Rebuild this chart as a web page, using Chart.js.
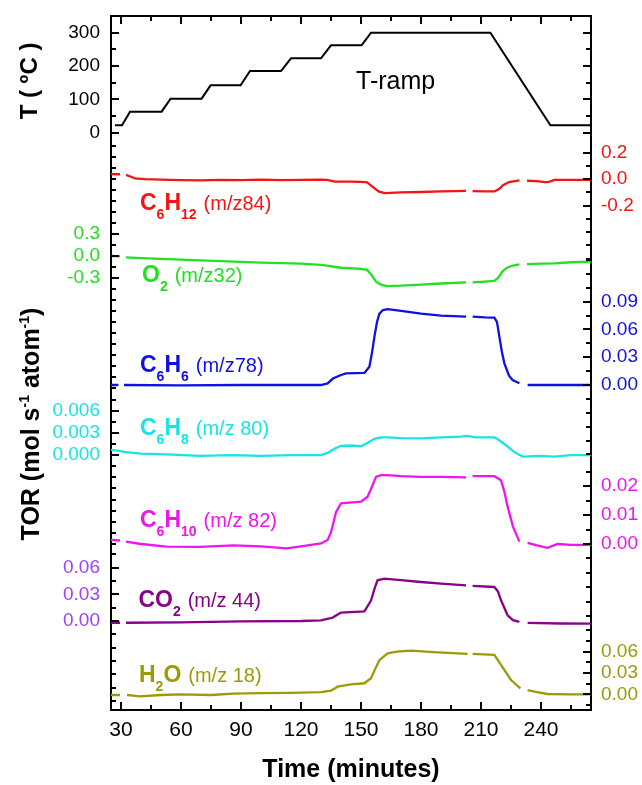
<!DOCTYPE html>
<html>
<head>
<meta charset="utf-8">
<script src="https://cdn.jsdelivr.net/npm/chart.js@4.4.0/dist/chart.umd.min.js"></script>
<style>
  html, body { margin: 0; padding: 0; background: #fff; }
</style>
</head>
<body>
<canvas id="chart" width="642" height="785"></canvas>
<script>
// Values (time in minutes)

// temperature ramp
const rampTime = [27, 30.5, 34.5, 50.3, 54.8, 70.3, 74.8, 89.8, 94.5, 110, 115, 130, 135, 150.3, 155, 214.7, 244.7, 265];
const rampTemp = [22, 22, 63, 63, 102, 102, 142, 142, 185, 185, 223, 223, 262, 262, 300, 300, 22, 22];

// C6H12 (m/z 84)
const c6h12Time = [25, 29.5, 31, 32.5, 35, 37, 42, 50, 60, 70, 80, 90, 100, 110, 120, 130, 133, 137, 145, 150, 153, 156, 159, 162, 170, 180, 190, 202.5, 204, 205.8, 212, 216.7, 219, 221, 224, 227, 229.2, 231, 233, 238, 242, 244, 246.7, 255, 265];
const c6h12Tor = [0.038, 0.037, null, 0.032, 0.018, 0.006, 0.0, -0.003, -0.008, -0.01, -0.006, -0.008, -0.004, -0.007, -0.005, -0.004, -0.006, -0.018, -0.019, -0.02, -0.025, -0.06, -0.095, -0.105, -0.1, -0.097, -0.092, -0.088, null, -0.09, -0.092, -0.093, -0.075, -0.045, -0.022, -0.015, -0.01, null, -0.012, -0.015, -0.022, -0.02, -0.006, -0.005, -0.005];

// O2 (m/z 32)
const o2Time = [25, 29.5, 31, 32.5, 40, 60, 80, 100, 120, 130, 133, 137, 140, 150, 153, 155, 157.5, 160, 163, 170, 180, 190, 202.5, 204, 205.8, 212, 216.7, 218.5, 220.8, 223, 226, 229.2, 231, 233, 240, 246.7, 255, 265];
const o2Tor = [0.0, -0.005, null, -0.02, -0.03, -0.05, -0.07, -0.09, -0.105, -0.12, -0.13, -0.15, -0.16, -0.175, -0.19, -0.25, -0.35, -0.39, -0.41, -0.405, -0.39, -0.375, -0.36, null, -0.36, -0.35, -0.34, -0.3, -0.21, -0.16, -0.13, -0.115, null, -0.11, -0.105, -0.1, -0.085, -0.077];

// C6H6 (m/z 78)
const c6h6Time = [25, 28.7, 30, 31.5, 60, 90, 120, 130, 133.3, 136, 140, 142.5, 151.7, 154.2, 155.5, 156.7, 158, 159.2, 161, 163.3, 170, 180, 190, 202.5, 204, 205.8, 212, 216.7, 218, 219.2, 220.5, 221.7, 224, 225.8, 229.2, 231, 233.3, 250, 265];
const c6h6Tor = [0.0, 0.0, null, 0.0, -0.0005, 0.0, 0.0, 0.0, 0.0018, 0.007, 0.0108, 0.0126, 0.013, 0.0198, 0.035, 0.052, 0.068, 0.077, 0.081, 0.082, 0.08, 0.077, 0.075, 0.0738, null, 0.0738, 0.073, 0.0727, 0.068, 0.052, 0.035, 0.0234, 0.01, 0.0054, 0.0018, null, 0.0, 0.0, 0.0];

// C6H8 (m/z 80)
const c6h8Time = [25, 28, 32.5, 40, 52.8, 69.5, 85, 100, 115, 130, 133.3, 137, 140, 145, 150, 153, 156.7, 160, 163.3, 170, 180, 190, 200, 203.3, 207, 216.7, 218, 221.7, 226.7, 230.8, 240, 246.7, 255, 265];
const c6h8Tor = [0.0007, 0.0006, 0.0004, 0.0002, 0.0001, -0.0001, 0.0, -0.0001, 0.0, 0.0, 0.0003, 0.0009, 0.00126, 0.0013, 0.0012, 0.0016, 0.0022, 0.0024, 0.0024, 0.0023, 0.00226, 0.0024, 0.0025, 0.0026, 0.0024, 0.0024, 0.0022, 0.0015, 0.0004, -0.0002, -0.0001, -0.0002, 0.0, 0.0];

// C6H10 (m/z 82)
const c6h10Time = [25, 29.5, 31, 32.5, 40, 52.8, 69.5, 86.2, 100, 112.8, 120, 130, 133.3, 135, 137.5, 140, 150, 153.3, 155, 157.5, 160, 163.3, 170, 180, 190, 202.5, 204, 205.8, 216.7, 220, 221.7, 223.3, 226, 229.2, 231, 233.3, 238, 243.3, 248.3, 255, 265];
const c6h10Tor = [0.0014, 0.0012, null, 0.0008, 0.0, -0.0009, -0.001, -0.0005, -0.0008, -0.0015, -0.0008, 0.0002, 0.0014, 0.004, 0.011, 0.014, 0.0146, 0.0163, 0.019, 0.0232, 0.0238, 0.0238, 0.0234, 0.0232, 0.0232, 0.023, null, 0.0234, 0.0234, 0.022, 0.018, 0.0129, 0.006, 0.0008, null, 0.0004, -0.0005, -0.0013, 0.0, -0.0003, -0.0003];

// CO2 (m/z 44)
const co2Time = [25, 29.5, 31, 32.5, 60, 90, 120, 130, 135.8, 140, 151.7, 155, 157, 158.3, 161.7, 170, 180, 190, 202.5, 204, 205.8, 216.7, 218.5, 220, 223.3, 226, 229.2, 231, 233.3, 250, 265];
const co2Tor = [-0.002, -0.002, null, -0.002, -0.0015, -0.0005, 0.0, 0.0008, 0.0038, 0.0094, 0.0109, 0.023, 0.038, 0.0457, 0.0476, 0.0458, 0.0438, 0.042, 0.0401, null, 0.0395, 0.0382, 0.033, 0.0233, 0.0064, 0.001, -0.001, null, -0.0022, -0.0028, -0.003];

// H2O (m/z 18)
const h2oTime = [25, 29.5, 31, 33, 36, 39.5, 50, 59.5, 75, 86.2, 100, 115, 130, 135, 138.3, 145, 151.7, 155, 157, 159.2, 163.3, 168, 175, 188.3, 196, 203.3, 204.5, 205.8, 216.7, 220, 225, 229.7, 231.5, 233.3, 238, 243.3, 255, 265];
const h2oTor = [-0.001, -0.001, null, -0.001, -0.002, -0.003, -0.001, 0.0, -0.001, 0.001, 0.0015, 0.002, 0.003, 0.005, 0.0107, 0.014, 0.0155, 0.0225, 0.035, 0.048, 0.0577, 0.06, 0.0613, 0.059, 0.058, 0.0567, null, 0.0567, 0.0553, 0.0412, 0.0201, 0.0084, null, 0.006, 0.003, 0.0004, 0.0, 0.0];

// labelled ticks
const timeTicks = [30, 60, 90, 120, 150, 180, 210, 240];
const tempTicks = [0, 100, 200, 300];
const c6h12Ticks = [-0.2, 0, 0.2];
const o2Ticks = [-0.3, 0, 0.3];
const c6h6Ticks = [0, 0.03, 0.06, 0.09];
const c6h8Ticks = [0, 0.003, 0.006];
const c6h10Ticks = [0, 0.01, 0.02];
const co2Ticks = [0, 0.03, 0.06];
const h2oTicks = [0, 0.03, 0.06];

const FONT = "'Liberation Sans', Arial, sans-serif";

function pts(times, values) {
    return times.map((t, i) => ({ x: t, y: values[i] }));
}

function stepTicks(min, max, step) {
    const out = [];
    for (let k = Math.ceil(min / step - 1e-9); k * step <= max + 1e-9; k++) {
        out.push(+(k * step).toFixed(6));
    }
    return out;
}

function hasTick(list, v) {
    return list.some(l => Math.abs(l - v) < 1e-9);
}

function noPad(s) {
    s.paddingTop = 0; s.paddingBottom = 0; s.paddingLeft = 0; s.paddingRight = 0;
}

// tick marks are drawn inward by the plugin below
const frameGrid = { drawOnChartArea: false, drawTicks: false };
const frameBorder = { display: true, color: '#000', width: 2 };

// one stacked y axis (one panel of the figure)
function panelAxis(side, order, height, min, max, step, labels, dec, color) {
    return {
        type: 'linear',
        position: side,
        stack: 'panels',
        stackWeight: height,
        weight: order,
        min: min,
        max: max,
        clip: false,
        grid: frameGrid,
        border: frameBorder,
        ticks: {
            autoSkip: false,
            padding: side === 'left' ? 11 : 10,
            color: color,
            font: { family: FONT, size: 19 },
            callback: v => hasTick(labels, v) ? Number(v).toFixed(dec) : ''
        },
        afterBuildTicks: s => { s.ticks = stepTicks(min, max, step).map(v => ({ value: v })); },
        afterFit: s => { s.width = side === 'left' ? 111 : 51; noPad(s); }
    };
}

function line(times, values, axis, color, width) {
    return {
        data: pts(times, values),
        yAxisID: axis,
        borderColor: color,
        borderWidth: width,
        pointRadius: 0,
        spanGaps: false,
        tension: 0,
        clip: false
    };
}

const RED = '#f41414', GREEN = '#22e022', BLUE = '#1010e6', CYAN = '#18e4e4',
      MAGENTA = '#f014f0', PURPLE = '#8a008a', VIOLET = '#a040ff', OLIVE = '#9a9a0a';

const yT = panelAxis('left', 4, 130, -40, 350, 50, tempTicks, 0, '#000');
yT.title = { display: true, text: 'T ( ºC )', color: '#000', font: { family: FONT, size: 24, weight: 'bold' }, padding: { top: 16, bottom: 0 } };

const yTR = panelAxis('right', 1, 130, -40, 350, 50, tempTicks, 0, '#000');
yTR.ticks.display = false;

const speciesLabels = [
    { axis: 'yC6H12', t: 39.5, v: -0.232, color: RED, formula: [['C', 0], ['6', 1], ['H', 0], ['12', 1]], tag: '(m/z84)' },
    { axis: 'yO2', t: 40.5, v: -0.35, color: GREEN, formula: [['O', 0], ['2', 1]], tag: '(m/z32)' },
    { axis: 'yC6H6', t: 39.5, v: 0.0144, color: BLUE, formula: [['C', 0], ['6', 1], ['H', 0], ['6', 1]], tag: '(m/z78)' },
    { axis: 'yC6H8', t: 39.5, v: 0.0027, color: CYAN, formula: [['C', 0], ['6', 1], ['H', 0], ['8', 1]], tag: '(m/z 80)' },
    { axis: 'yC6H10', t: 39.5, v: 0.006, color: MAGENTA, formula: [['C', 0], ['6', 1], ['H', 0], ['10', 1]], tag: '(m/z 82)' },
    { axis: 'yCO2', t: 38.7, v: 0.0157, color: PURPLE, formula: [['CO', 0], ['2', 1]], tag: '(m/z 44)' },
    { axis: 'yH2O', t: 39, v: 0.0177, color: OLIVE, formula: [['H', 0], ['2', 1], ['O', 0]], tag: '(m/z 18)' }
];

// inward tick marks on all four sides, from each scale's own ticks
const tickPlugin = {
    id: 'inwardTicks',
    afterDraw(chart) {
        const ctx = chart.ctx;
        const a = chart.chartArea;
        ctx.save();
        ctx.strokeStyle = '#000';
        ctx.lineWidth = 2;
        ctx.lineCap = 'butt';
        for (const id of Object.keys(chart.scales)) {
            const s = chart.scales[id];
            const pos = s.options.position;
            for (const t of s.ticks) {
                const p = Math.round(s.getPixelForValue(t.value));
                const len = t.label ? 8 : 5;
                ctx.beginPath();
                if (pos === 'left') { ctx.moveTo(a.left, p); ctx.lineTo(a.left + len, p); }
                else if (pos === 'right') { ctx.moveTo(a.right, p); ctx.lineTo(a.right - len, p); }
                else if (pos === 'top') { ctx.moveTo(p, a.top); ctx.lineTo(p, a.top + len); }
                else { ctx.moveTo(p, a.bottom); ctx.lineTo(p, a.bottom - len); }
                ctx.stroke();
            }
        }
        ctx.restore();
    }
};

const labelPlugin = {
    id: 'panelLabels',
    afterDatasetsDraw(chart) {
        const ctx = chart.ctx;
        const xs = chart.scales.x;
        ctx.save();
        ctx.textAlign = 'left';

        // T-ramp
        ctx.fillStyle = '#000';
        ctx.textBaseline = 'middle';
        ctx.font = '25px ' + FONT;
        ctx.fillText('T-ramp', xs.getPixelForValue(147.5), chart.scales.yT.getPixelForValue(153));

        // species labels
        ctx.textBaseline = 'alphabetic';
        for (const lab of speciesLabels) {
            let cx = xs.getPixelForValue(lab.t);
            const y = chart.scales[lab.axis].getPixelForValue(lab.v);
            ctx.fillStyle = lab.color;
            for (const [txt, sub] of lab.formula) {
                ctx.font = sub ? 'bold 14px ' + FONT : 'bold 23px ' + FONT;
                ctx.fillText(txt, cx, y + (sub ? 9 : 0));
                cx += ctx.measureText(txt).width;
            }
            ctx.font = '20px ' + FONT;
            ctx.fillText(lab.tag, cx + 7, y);
        }

        // TOR title, rotated with superscripts
        const runs = [['TOR (mol s', 0], ['-1', 1], [' atom', 0], ['-1', 1], [')', 0]];
        let total = 0;
        for (const [txt, sup] of runs) {
            ctx.font = sup ? 'bold 14px ' + FONT : 'bold 25px ' + FONT;
            total += ctx.measureText(txt).width;
        }
        ctx.translate(39, 424);
        ctx.rotate(-Math.PI / 2);
        ctx.fillStyle = '#000';
        let px = -total / 2;
        for (const [txt, sup] of runs) {
            ctx.font = sup ? 'bold 14px ' + FONT : 'bold 25px ' + FONT;
            ctx.fillText(txt, px, sup ? -10 : 0);
            px += ctx.measureText(txt).width;
        }
        ctx.restore();
    }
};

new Chart(document.getElementById('chart').getContext('2d'), {
    type: 'line',
    data: {
        datasets: [
            line(rampTime, rampTemp, 'yT', '#000', 2),
            line(c6h12Time, c6h12Tor, 'yC6H12', RED, 2.3),
            line(o2Time, o2Tor, 'yO2', GREEN, 2.3),
            line(c6h6Time, c6h6Tor, 'yC6H6', BLUE, 2.3),
            line(c6h8Time, c6h8Tor, 'yC6H8', CYAN, 2.3),
            line(c6h10Time, c6h10Tor, 'yC6H10', MAGENTA, 2.3),
            line(co2Time, co2Tor, 'yCO2', PURPLE, 2.3),
            line(h2oTime, h2oTor, 'yH2O', OLIVE, 2.3)
        ]
    },
    options: {
        responsive: false,
        animation: false,
        events: [],
        layout: { padding: 0 },
        plugins: { legend: { display: false }, tooltip: { enabled: false } },
        scales: {
            x: {
                type: 'linear',
                position: 'bottom',
                min: 25,
                max: 265,
                grid: frameGrid,
                border: frameBorder,
                ticks: {
                    autoSkip: false,
                    maxRotation: 0,
                    padding: 8,
                    color: '#000',
                    font: { family: FONT, size: 21 },
                    callback: v => hasTick(timeTicks, v) ? String(v) : ''
                },
                afterBuildTicks: s => { s.ticks = stepTicks(30, 255, 15).map(v => ({ value: v })); },
                afterFit: s => { s.height = 75; noPad(s); },
                title: { display: true, text: 'Time (minutes)', color: '#000', font: { family: FONT, size: 25, weight: 'bold' }, padding: { top: 0, bottom: 0 } }
            },
            xTop: {
                type: 'linear',
                position: 'top',
                min: 25,
                max: 265,
                grid: frameGrid,
                border: frameBorder,
                ticks: { display: false, callback: v => hasTick(timeTicks, v) ? String(v) : '' },
                afterBuildTicks: s => { s.ticks = stepTicks(30, 255, 15).map(v => ({ value: v })); },
                afterFit: s => { s.height = 16; noPad(s); }
            },
            // left column of panels (top to bottom)
            yT: yT,
            yO2: panelAxis('left', 3, 198, -1.2, 1.5, 0.15, o2Ticks, 1, GREEN),
            yC6H8: panelAxis('left', 2, 200, -0.012, 0.015, 0.0015, c6h8Ticks, 3, CYAN),
            yCO2: panelAxis('left', 1, 166, -0.1, 0.0865, 0.015, co2Ticks, 2, VIOLET),
            // right column of panels (top to bottom)
            yTR: yTR,
            yC6H12: panelAxis('right', 2, 114, -0.61, 0.25, 0.1, c6h12Ticks, 1, RED),
            yC6H6: panelAxis('right', 3, 200, -0.081, 0.135, 0.015, c6h6Ticks, 2, BLUE),
            yC6H10: panelAxis('right', 4, 170, -0.0297, 0.029, 0.005, c6h10Ticks, 2, MAGENTA),
            yH2O: panelAxis('right', 5, 80, -0.0221, 0.0904, 0.015, h2oTicks, 2, OLIVE)
        }
    },
    plugins: [labelPlugin, tickPlugin]
});
</script>
</body>
</html>
